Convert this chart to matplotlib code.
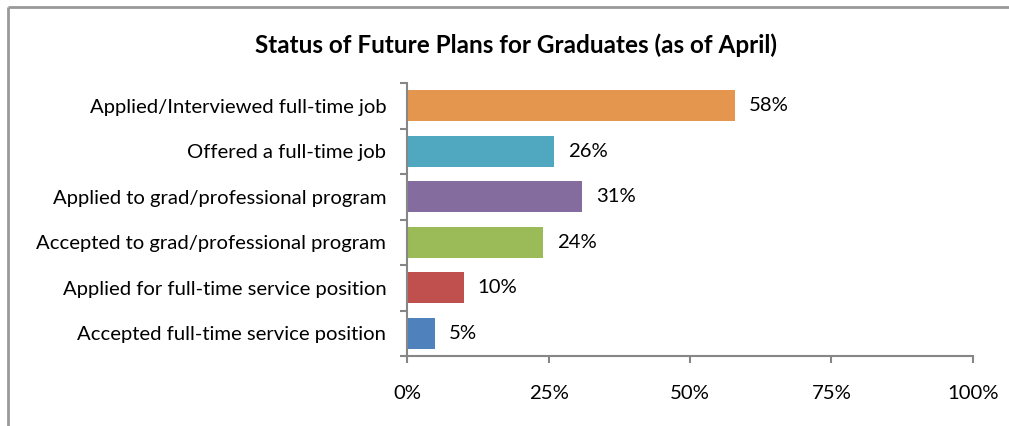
import numpy as np
import matplotlib.pyplot as plt
from matplotlib.ticker import FixedLocator, PercentFormatter

plt.rcParams['font.family'] = ['Lato', 'DejaVu Sans']

# data
categories = ['Applied/Interviewed full-time job',
              'Offered a full-time job',
              'Applied to grad/professional program',
              'Accepted to grad/professional program',
              'Applied for full-time service position',
              'Accepted full-time service position']
values = [58, 26, 31, 24, 10, 5]
colors = ['#E4964F', '#4FA8C0', '#846C9E', '#9BBB59', '#C0504D', '#4F81BD']
xticks = [0, 25, 50, 75, 100]

fig = plt.figure(figsize=(10.09, 4.26), dpi=100)
ax = fig.add_axes([0.4034, 0.1643, 0.5609, 0.6407])

fs = 14.6

y = np.arange(len(categories))
ax.barh(y, values, height=0.68, color=colors)
ax.set_ylim(len(categories) - 0.5, -0.5)
ax.set_xlim(0, 100)

for yi, v in zip(y, values):
    ax.annotate(f'{v}%', (v, yi), xytext=(10, 0), textcoords='offset points',
                va='center', ha='left', fontsize=fs)

ax.set_yticks(y)
ax.set_yticklabels(categories, fontsize=fs)
ax.yaxis.set_minor_locator(FixedLocator(np.arange(-0.5, len(categories), 1)))
ax.tick_params(axis='y', which='major', length=0, pad=15)
ax.tick_params(axis='y', which='minor', length=5, color='#868686', width=1.5)

ax.set_xticks(xticks)
ax.xaxis.set_major_formatter(PercentFormatter(decimals=0))
ax.tick_params(axis='x', length=5, color='#868686', width=1.5, pad=16, labelsize=fs)

for s in ['top', 'right']:
    ax.spines[s].set_visible(False)
for s in ['left', 'bottom']:
    ax.spines[s].set_color('#868686')
    ax.spines[s].set_linewidth(1.5)

fig.text(0.511, 0.895, 'Status of Future Plans for Graduates (as of April)',
         ha='center', va='center', fontsize=17.5, fontweight='bold')

# outer chart frame (partly visible)
fig.add_artist(plt.Line2D([8/1009, 1.01], [1 - 7/426, 1 - 7/426], color='#999999',
                          lw=2, solid_capstyle='butt'))
fig.add_artist(plt.Line2D([8/1009, 8/1009], [-0.01, 1 - 7/426], color='#999999',
                          lw=2, solid_capstyle='butt'))

fig.savefig('out.png', dpi=100)
